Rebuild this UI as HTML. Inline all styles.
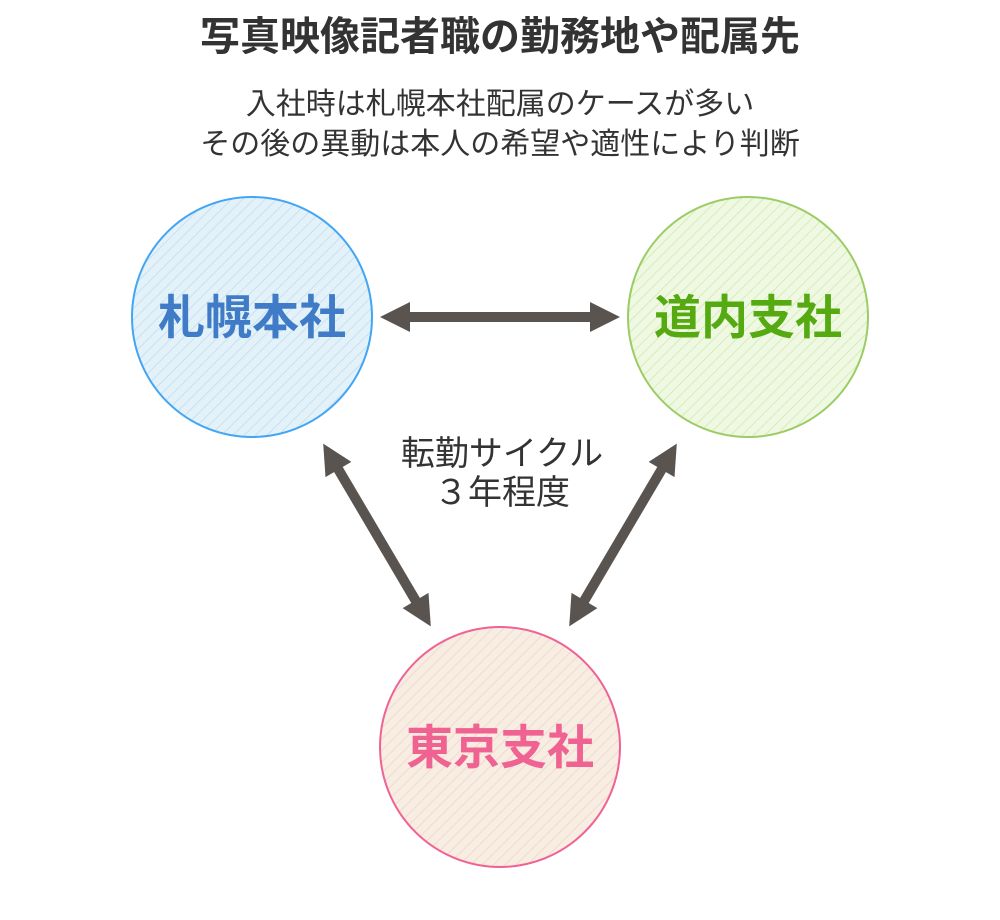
<!DOCTYPE html>
<html><head><meta charset="utf-8"><style>
body{margin:0;background:#fff;}
svg{display:block;font-family:"Liberation Sans","Noto Sans CJK JP",sans-serif;}
</style></head><body>
<svg width="1000" height="920" viewBox="0 0 1000 920" xmlns="http://www.w3.org/2000/svg">
<defs>
<pattern id="hb" width="8" height="8" patternUnits="userSpaceOnUse" patternTransform="rotate(45)"><rect width="8" height="8" fill="#e3f2f9"/><line x1="0" y1="0" x2="0" y2="8" stroke="#c9e0f3" stroke-width="2"/></pattern>
<pattern id="hg" width="8" height="8" patternUnits="userSpaceOnUse" patternTransform="rotate(45)"><rect width="8" height="8" fill="#eff8e2"/><line x1="0" y1="0" x2="0" y2="8" stroke="#d6eeb6" stroke-width="2"/></pattern>
<pattern id="hp" width="8" height="8" patternUnits="userSpaceOnUse" patternTransform="rotate(45)"><rect width="8" height="8" fill="#f7ede1"/><line x1="0" y1="0" x2="0" y2="8" stroke="#f2d8d8" stroke-width="2"/></pattern>
</defs>
<text x="500" y="50" text-anchor="middle" font-size="40" font-weight="bold" fill="#333">写真映像記者職の勤務地や配属先</text>
<text x="500" y="114" text-anchor="middle" font-size="30" fill="#333">入社時は札幌本社配属のケースが多い</text>
<text x="500" y="154" text-anchor="middle" font-size="30" fill="#333">その後の異動は本人の希望や適性により判断</text>

<circle cx="252" cy="317" r="120" fill="url(#hb)" stroke="#42a5f5" stroke-width="2"/>
<text x="252" y="334" text-anchor="middle" font-size="47" font-weight="bold" fill="#3f7bc6">札幌本社</text>
<circle cx="748" cy="317" r="120" fill="url(#hg)" stroke="#9ccc65" stroke-width="2"/>
<text x="748" y="334" text-anchor="middle" font-size="47" font-weight="bold" fill="#55aa11">道内支社</text>
<circle cx="500" cy="747" r="120" fill="url(#hp)" stroke="#f06292" stroke-width="2"/>
<text x="500" y="764" text-anchor="middle" font-size="47" font-weight="bold" fill="#f06292">東京支社</text>

<g fill="#5a5451">
<g transform="translate(500,317)">
<rect x="-92" y="-5" width="184" height="10"/>
<polygon points="-120,0 -90,-15 -90,15"/><polygon points="120,0 90,-15 90,15"/>
</g>
<g transform="translate(377,535) rotate(59.5)">
<rect x="-78" y="-5" width="156" height="10"/>
<polygon points="-106,0 -76,-15 -76,15"/><polygon points="106,0 76,-15 76,15"/>
</g>
<g transform="translate(623,535) rotate(-59.5)">
<rect x="-78" y="-5" width="156" height="10"/>
<polygon points="-106,0 -76,-15 -76,15"/><polygon points="106,0 76,-15 76,15"/>
</g>
</g>
<text x="502" y="465" text-anchor="middle" font-size="34" fill="#333">転勤サイクル</text>
<text x="502" y="504" text-anchor="middle" font-size="34" fill="#333">３年程度</text>
</svg>
</body></html>
